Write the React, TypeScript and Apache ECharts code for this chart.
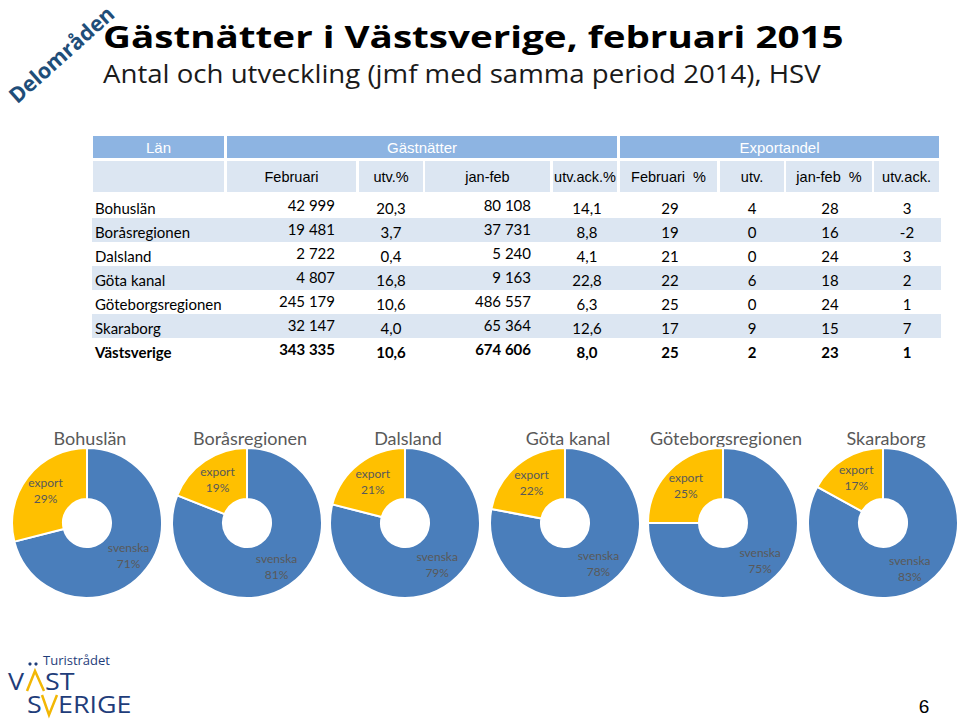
import React, { useEffect, useRef } from "react";
import * as echarts from "echarts";

const regions = ["Bohuslän", "Boråsregionen", "Dalsland", "Göta kanal", "Göteborgsregionen", "Skaraborg", "Västsverige"];
const febNights = [42999, 19481, 2722, 4807, 245179, 32147, 343335];
const febChange = [20.3, 3.7, 0.4, 16.8, 10.6, 4.0, 10.6];
const janFebNights = [80108, 37731, 5240, 9163, 486557, 65364, 674606];
const janFebChange = [14.1, 8.8, 4.1, 22.8, 6.3, 12.6, 8.0];
const febExportPct = [29, 19, 21, 22, 25, 17, 25];
const febExportChange = [4, 0, 0, 6, 0, 9, 2];
const janFebExportPct = [28, 16, 24, 18, 24, 15, 23];
const janFebExportChange = [3, -2, 3, 2, 1, 7, 1];

const pieRegions = ["Bohuslän", "Boråsregionen", "Dalsland", "Göta kanal", "Göteborgsregionen", "Skaraborg"];
const pieExport = [29, 19, 21, 22, 25, 17];
const pieSwedish = [71, 81, 79, 78, 75, 83];

const headerTop = ["Län", "Gästnätter", "Exportandel"];
const headerSub = ["", "Februari", "utv.%", "jan-feb", "utv.ack.%", "Februari  %", "utv.", "jan-feb  %", "utv.ack."];

const fmtInt = (n: number) => n.toString().replace(/\B(?=(\d{3})+(?!\d))/g, " ");
const fmtDec = (n: number) => n.toFixed(1).replace(".", ",");

const DARK = "#1F3D7A";

export default function App() {
  const ref = useRef<HTMLDivElement>(null);
  useEffect(() => {
    if (!ref.current) return;
    const chart = echarts.init(ref.current, undefined, { renderer: "svg" });
    const g: any[] = [];
    const txt = (text: string, x: number, y: number, o: any = {}) =>
      g.push({
        type: "text",
        x,
        y,
        rotation: o.rotation || 0,
        scaleX: o.scaleX || 1,
        style: {
          text,
          fill: o.fill || "#000",
          fontSize: o.fontSize || 15,
          fontFamily: o.fontFamily || "Lato",
          fontWeight: o.fontWeight || "normal",
          lineHeight: o.lineHeight,
          align: o.align || "left",
          verticalAlign: "middle",
        },
      });
    const rect = (x: number, y: number, w: number, h: number, fill: string) =>
      g.push({ type: "rect", shape: { x, y, width: w, height: h }, style: { fill } });

    // Title area
    txt("Delområden", 61, 54, { rotation: 0.73, fill: "#1F4E79", fontSize: 21.5, fontWeight: "bold", fontFamily: "Open Sans", align: "center", lineHeight: 22 });
    txt("Gästnätter i Västsverige, februari 2015", 103, 36, { fontSize: 31, fontWeight: "bold", fontFamily: "Open Sans", scaleX: 1.245 });
    txt("Antal och utveckling (jmf med samma period 2014), HSV", 103, 74, { fontSize: 25, fontFamily: "Open Sans", fill: "#1a1a1a", scaleX: 1.105 });

    // Table header
    const topCells = [[93, 224], [227, 617], [620, 939]];
    topCells.forEach((c, i) => {
      rect(c[0], 136, c[1] - c[0], 22, "#8DB4E2");
      txt(headerTop[i], (c[0] + c[1]) / 2, 147, { fill: "#fff", fontSize: 15, fontFamily: "Liberation Sans", align: "center" });
    });
    const subCells = [[93, 224], [227, 356], [359, 423], [425, 550], [553, 617], [620, 717], [720, 784], [786, 872], [874, 939]];
    subCells.forEach((c, i) => {
      rect(c[0], 161, c[1] - c[0], 31, "#DCE6F2");
      if (headerSub[i]) txt(headerSub[i], (c[0] + c[1]) / 2, 177, { fontSize: 14.5, fontFamily: "Liberation Sans", align: "center" });
    });

    // Table body
    regions.forEach((r, i) => {
      const top = 194 + 24 * i;
      if (i % 2 === 1) rect(92, top, 849, 24, "#DCE6F2");
      const y = top + 14;
      const bold = i === regions.length - 1 ? "bold" : "normal";
      const o = { fontWeight: bold };
      txt(r, 95, y, o);
      txt(fmtInt(febNights[i]), 335, y - 3, { ...o, align: "right" });
      txt(fmtDec(febChange[i]), 391, y, { ...o, align: "center" });
      txt(fmtInt(janFebNights[i]), 531, y - 3, { ...o, align: "right" });
      txt(fmtDec(janFebChange[i]), 587, y, { ...o, align: "center" });
      txt(String(febExportPct[i]), 670, y, { ...o, align: "center" });
      txt(String(febExportChange[i]), 752, y, { ...o, align: "center" });
      txt(String(janFebExportPct[i]), 830, y, { ...o, align: "center" });
      txt(String(janFebExportChange[i]), 907, y, { ...o, align: "center" });
    });

    // Pie titles
    const pieCx = [87, 247, 405, 565, 723, 883];
    pieRegions.forEach((r, i) => txt(r, pieCx[i] + 3, 438, { fontSize: 18, fill: "#595959", align: "center" }));

    // Logo
    g.push({ type: "circle", shape: { cx: 30, cy: 664, r: 1.6 }, style: { fill: DARK } });
    g.push({ type: "circle", shape: { cx: 36, cy: 664, r: 1.6 }, style: { fill: DARK } });
    txt("Turistrådet", 43, 660, { fontSize: 13, fill: DARK, fontFamily: "Open Sans", lineHeight: 13 });
    txt("V", 8, 681, { fontSize: 24, fill: DARK, fontFamily: "Open Sans", lineHeight: 21, scaleX: 1.12 });
    txt("ST", 45, 681, { fontSize: 24, fill: DARK, fontFamily: "Open Sans", lineHeight: 21, scaleX: 1.12 });
    txt("S", 27, 704, { fontSize: 24, fill: DARK, fontFamily: "Open Sans", lineHeight: 21, scaleX: 1.12 });
    txt("ERIGE", 58, 704, { fontSize: 24, fill: DARK, fontFamily: "Open Sans", lineHeight: 21, scaleX: 1.12 });
    g.push({ type: "polyline", shape: { points: [[27, 691], [35, 671], [44, 691]] }, style: { stroke: "#F2B705", lineWidth: 2.5, fill: "none" } });
    g.push({ type: "polyline", shape: { points: [[42, 695], [49, 715], [57, 695]] }, style: { stroke: "#F2B705", lineWidth: 2.5, fill: "none" } });

    // Page number
    txt("6", 924, 706, { fontSize: 19, fontFamily: "Liberation Sans", align: "center" });

    const series = pieRegions.map((r, i) => ({
      type: "pie",
      name: r,
      center: [pieCx[i], 523],
      radius: [24, 75],
      startAngle: 90,
      clockwise: true,
      silent: true,
      emphasis: { disabled: true },
      itemStyle: { borderColor: "#fff", borderWidth: 2 },
      label: {
        show: true,
        position: "inside",
        formatter: "{b}\n{c}%",
        color: "#595959",
        fontSize: 12,
        fontFamily: "Lato",
        lineHeight: 16,
      },
      labelLine: { show: false },
      data: [
        { name: "svenska", value: pieSwedish[i], itemStyle: { color: "#4A7EBB" } },
        { name: "export", value: pieExport[i], itemStyle: { color: "#FFC000" } },
      ],
    }));

    chart.setOption({
      animation: false,
      backgroundColor: "#fff",
      graphic: { elements: g },
      series,
    });
    return () => chart.dispose();
  }, []);
  return <div ref={ref} style={{ position: "fixed", left: 0, top: 0, width: 960, height: 720 }} />;
}
